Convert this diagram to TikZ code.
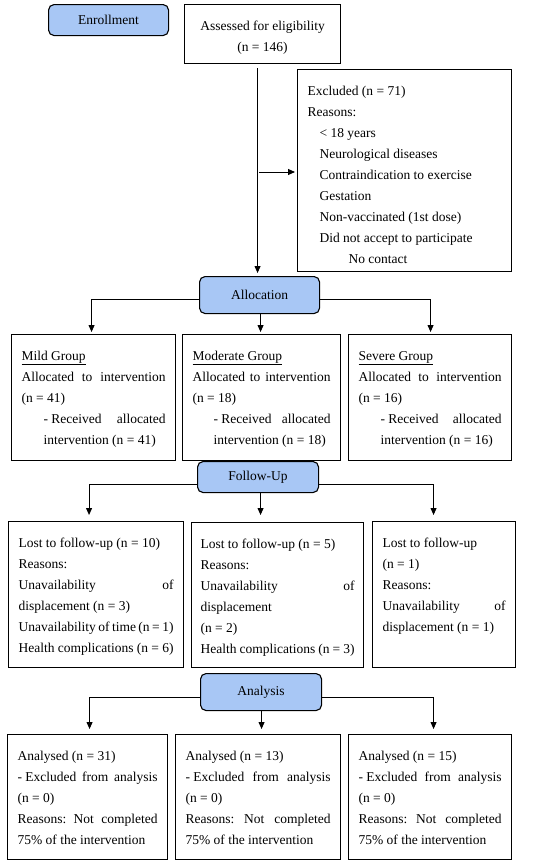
\documentclass[tikz,border=0pt]{standalone}
\usepackage{fontspec}
\setmainfont{Liberation Serif}
\usetikzlibrary{arrows.meta}
\definecolor{hdrblue}{RGB}{168,199,245}
\newcommand\bx[3]{\parbox[c][#2pt][t]{#1pt}{\rule{0pt}{25.5pt}#3}}
\begin{document}
\begin{tikzpicture}[x=1pt,y=-1pt,
  every node/.style={font=\fontsize{13.5}{21}\selectfont},
  box/.style={draw, line width=1.1pt, anchor=north west, inner ysep=0pt, inner xsep=10pt},
  hdr/.style={draw, line width=1.1pt, fill=hdrblue, rounded corners=5.5pt, anchor=north west, inner sep=0pt},
  arr/.style={line width=0.9pt, -{Triangle[length=7pt,width=6pt]}}]
\useasboundingbox (0,0) rectangle (550,862);
% enrollment
\node[hdr, minimum width=120pt, minimum height=31pt] (enroll) at (48,4) {Enrollment};
\node[box, inner xsep=0pt] (assess) at (184,4) {\bx{156}{59}{\centering Assessed for eligibility\\(n = 146)}};
\node[box] (excl) at (297,69) {\bx{194}{202}{Excluded (n = 71)\\
  Reasons:\\
  \hspace*{12pt}< 18 years\\
  \hspace*{12pt}Neurological diseases\\
  \hspace*{12pt}Contraindication to exercise\\
  \hspace*{12pt}Gestation\\
  \hspace*{12pt}Non-vaccinated (1st dose)\\
  \hspace*{12pt}Did not accept to participate\\
  \hspace*{41pt}No contact}};
% allocation
\node[hdr, minimum width=120pt, minimum height=37pt] (alloc) at (199,276) {Allocation};
\node[box] (mild) at (11,334) {\bx{144}{126}{\underline{Mild Group}\\
  Allocated\hfill to\hfill intervention\\
  (n = 41)\\
  \hspace*{22pt}- Received\hfill allocated\\
  \hspace*{22pt}intervention (n = 41)}};
\node[box] (mod) at (182,334) {\bx{138}{126}{\underline{Moderate Group}\\
  Allocated\hfill to\hfill intervention\\
  (n = 18)\\
  \hspace*{21pt}- Received\hfill allocated\\
  \hspace*{21pt}intervention (n = 18)}};
\node[box] (sev) at (348,334) {\bx{143}{126}{\underline{Severe Group}\\
  Allocated\hfill to\hfill intervention\\
  (n = 16)\\
  \hspace*{22pt}- Received\hfill allocated\\
  \hspace*{22pt}intervention (n = 16)}};
% follow-up
\node[box] (fu1) at (8,521) {\bx{155}{146}{Lost to follow-up (n = 10)\\
  Reasons:\\
  Unavailability\hfill of\\
  displacement (n = 3)\\
  Unavailability of time (n = 1)\\
  Health complications (n = 6)}};
\node[box, inner xsep=9pt] (fu2) at (191,522) {\bx{154}{145}{Lost to follow-up (n = 5)\\
  Reasons:\\
  Unavailability\hfill of\\
  displacement\\
  (n = 2)\\
  Health complications (n = 3)}};
\node[box] (fu3) at (372,521) {\bx{123}{146}{Lost to follow-up\\
  (n = 1)\\
  Reasons:\\
  Unavailability\hfill of\\
  displacement (n = 1)}};
\node[hdr, minimum width=121pt, minimum height=31pt] (fup) at (197,461) {Follow-Up};
% analysis
\node[hdr, minimum width=121pt, minimum height=37pt] (anal) at (200,673) {Analysis};
\node[box] (an1) at (7,734) {\bx{140}{125}{Analysed (n = 31)\\
  - Excluded\hfill from\hfill analysis\\
  (n = 0)\\
  Reasons:\hfill Not\hfill completed\\
  75\% of the intervention}};
\node[box] (an2) at (175,734) {\bx{145}{125}{Analysed (n = 13)\\
  - Excluded\hfill from\hfill analysis\\
  (n = 0)\\
  Reasons:\hfill Not\hfill completed\\
  75\% of the intervention}};
\node[box] (an3) at (348,734) {\bx{143}{125}{Analysed (n = 15)\\
  - Excluded\hfill from\hfill analysis\\
  (n = 0)\\
  Reasons:\hfill Not\hfill completed\\
  75\% of the intervention}};
% connectors
\draw[arr, shorten >=3pt] ([xshift=-5pt, yshift=-4pt]assess.south) -- ([xshift=-2pt]alloc.north);
\coordinate (sj) at (259,172);
\draw[arr, shorten >=2pt] (sj) -- (sj -| excl.west);
\draw[arr, shorten >=2pt] ([yshift=-4pt]alloc.west) -| ([xshift=-2pt]mild.north);
\draw[arr, shorten >=2pt] ([yshift=-4pt]alloc.east) -| ([xshift=0.5pt]sev.north);
\draw[arr, shorten >=2pt] ([xshift=1pt]alloc.south) -- ([xshift=1pt]alloc.south |- mod.north);
\draw[arr, shorten >=6pt] ([yshift=-7pt]fup.west) -| ([xshift=-7pt]fu1.north);
\draw[arr, shorten >=6pt] ([yshift=-7pt]fup.east) -| ([xshift=-10.5pt]fu3.north);
\draw[arr, shorten >=7pt] ([xshift=2.5pt]fup.south) -- ([xshift=2.5pt]fup.south |- fu2.north);
\draw[arr, shorten >=5pt] ([yshift=-5.5pt]anal.west) -| ([xshift=2pt]an1.north);
\draw[arr, shorten >=5pt] ([yshift=-5.5pt]anal.east) -| ([xshift=3.5pt]an3.north);
\draw[arr, shorten >=5pt] ([xshift=0.5pt]anal.south) -- ([xshift=0.5pt]anal.south |- an2.north);
\end{tikzpicture}
\end{document}
